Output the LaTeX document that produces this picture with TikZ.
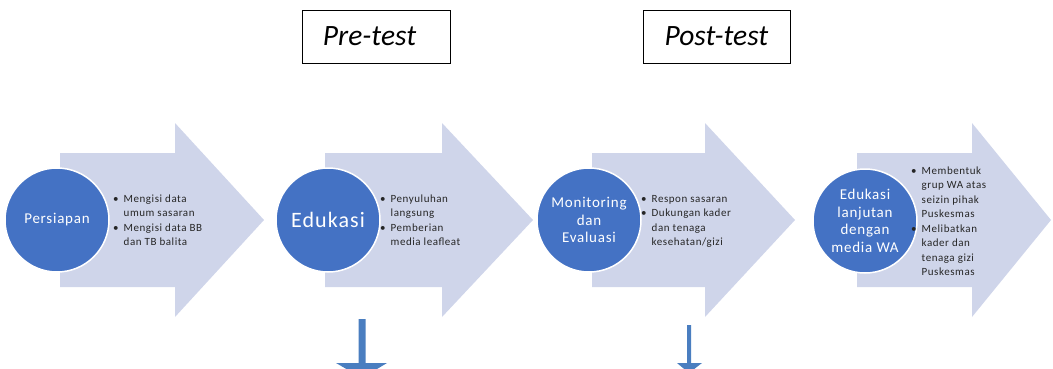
\documentclass[tikz,border=0pt]{standalone}
\usepackage{fontspec}
\setmainfont{Carlito}
\newfontfamily\spacedfont[LetterSpace=5]{Carlito}
\definecolor{arrowfill}{HTML}{CFD5EA}
\definecolor{circfill}{HTML}{4472C4}
\definecolor{txtdark}{HTML}{262626}
\definecolor{downblue}{HTML}{4A7EC0}
\tikzset{
  bigarrow/.style={fill=arrowfill, draw=none},
  stepcirc/.style={circle, fill=circfill, draw=white, line width=1.5pt, minimum size=104pt, inner sep=0pt, text=white, align=center, font=\spacedfont\fontsize{15}{17.5}\selectfont},
  bullettext/.style={anchor=west, inner sep=0pt, text=txtdark, font=\spacedfont\fontsize{11}{14.5}\selectfont},
  testbox/.style={draw=black, line width=0.8pt, minimum height=53pt, inner sep=0pt, font=\fontsize{29.5}{32}\selectfont\itshape},
  downarrow/.style={fill=downblue, draw=none}
}
\newcommand{\bigarr}[3]{% left, head base, tip
  \fill[bigarrow] (#1,153) -- (#2,153) -- (#2,123) -- (#3,220) -- (#2,317) -- (#2,287) -- (#1,287) -- cycle;}
\begin{document}
\begin{tikzpicture}[x=1pt,y=-1pt]
\useasboundingbox (0,0) rectangle (1053,368);
\clip (0,0) rectangle (1053,368);
% big arrows
\bigarr{60}{175}{264}
\bigarr{325}{442}{533}
\bigarr{592}{705}{795}
\bigarr{857}{972}{1051}
% circles
\node[stepcirc] (c1) at (57,220) {Persiapan};
\node[stepcirc, font=\spacedfont\fontsize{22}{26}\selectfont] (c2) at (328,220) {Edukasi};
\node[stepcirc] (c3) at (589,220) {Monitoring\\dan\\Evaluasi};
\node[stepcirc] (c4) at (865,221) {Edukasi\\lanjutan\\dengan\\media WA};
% bullet texts
\node[bullettext] (t1) at (113,221) {\begin{tabular}{@{}l@{\hspace{5pt}}l@{}}\textbullet & Mengisi data\\ & umum sasaran\\ \textbullet & Mengisi data BB\\ & dan TB balita\end{tabular}};
\node[bullettext] (t2) at (380,221) {\begin{tabular}{@{}l@{\hspace{5pt}}l@{}}\textbullet & Penyuluhan\\ & langsung\\ \textbullet & Pemberian\\ & media leafleat\end{tabular}};
\node[bullettext] (t3) at (641,221) {\begin{tabular}{@{}l@{\hspace{5pt}}l@{}}\textbullet & Respon sasaran\\ \textbullet & Dukungan kader\\ & dan tenaga\\ & kesehatan/gizi\end{tabular}};
\node[bullettext] (t4) at (911,222) {\begin{tabular}{@{}l@{\hspace{5pt}}l@{}}\textbullet & Membentuk\\ & grup WA atas\\ & seizin pihak\\ & Puskesmas\\ \textbullet & Melibatkan\\ & kader dan\\ & tenaga gizi\\ & Puskesmas\end{tabular}};
% test boxes
\node[testbox, minimum width=148pt] (pre) at (376,36.5) {};
\node[font=\fontsize{29.5}{32}\selectfont\itshape, inner sep=0pt] (pretxt) at (369.5,36.5) {Pre-test};
\node[testbox, minimum width=147pt, font=\fontsize{29.5}{32}\selectfont\itshape] (post) at (716.5,36.5) {Post-test};
% down arrows
\fill[downarrow] (358.5,319) -- (365.5,319) -- (365.5,363) -- (387,363) -- (362,378) -- (336,363) -- (358.5,363) -- cycle;
\fill[downarrow] (687,325) -- (691,325) -- (691,363) -- (702,363) -- (689,373) -- (677,363) -- (687,363) -- cycle;
\end{tikzpicture}
\end{document}
